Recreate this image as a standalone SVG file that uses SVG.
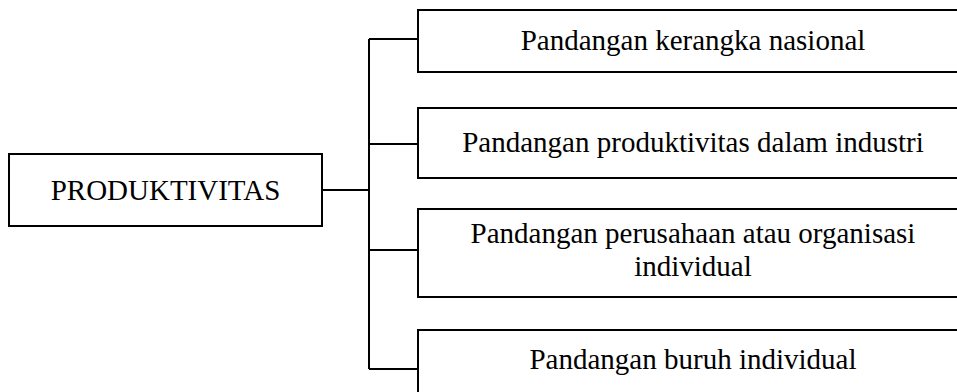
<svg xmlns="http://www.w3.org/2000/svg" width="957" height="392" viewBox="0 0 957 392">
<style>
.box{fill:#fff;stroke:#000;stroke-width:2}
.ln{fill:none;stroke:#000;stroke-width:2}
text{font-family:"Liberation Serif","Times New Roman",serif;font-size:29px;fill:#000;text-anchor:middle}
</style>
<rect width="957" height="392" fill="#fff"/>
<g id="connectors">
<path class="ln" d="M322 190H369M369 39V369M369 39H418M369 144H418M369 250H418M369 369H418"/>
</g>
<g id="node-produktivitas">
<rect class="box" x="9" y="154" width="313" height="72"/>
<text x="165.5" y="200">PRODUKTIVITAS</text>
</g>
<g id="node-nasional">
<rect class="box" x="418" y="10" width="560" height="62"/>
<text x="693" y="50">Pandangan kerangka nasional</text>
</g>
<g id="node-industri">
<rect class="box" x="418" y="108" width="560" height="70"/>
<text x="693" y="152">Pandangan produktivitas dalam industri</text>
</g>
<g id="node-perusahaan">
<rect class="box" x="418" y="209" width="560" height="88"/>
<text x="693" y="243">Pandangan perusahaan atau organisasi</text>
<text x="693" y="276">individual</text>
</g>
<g id="node-buruh">
<rect class="box" x="418" y="330" width="560" height="80"/>
<text x="693" y="369">Pandangan buruh individual</text>
</g>
</svg>
